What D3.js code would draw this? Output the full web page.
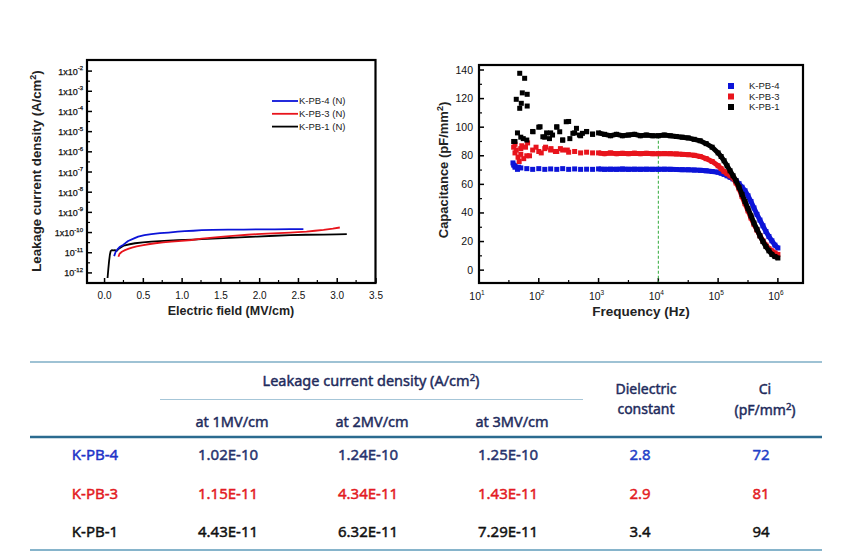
<!DOCTYPE html>
<html><head><meta charset="utf-8">
<script src="https://cdn.jsdelivr.net/npm/d3@7"></script>
<style>body{margin:0;background:#fff}svg{display:block}</style>
</head><body><svg id="c" width="864" height="552"></svg>
<script>
// ---------- Leakage current data (left chart) ----------
const leakNames = ['K-PB-4 (N)', 'K-PB-3 (N)', 'K-PB-1 (N)'];
const fieldK4 = [0.13,0.15,0.17,0.2,0.25,0.31,0.38,0.44,0.52,0.61,0.72,0.83,0.95,1.04,1.15,1.26,1.4,1.6,1.8,2.0,2.2,2.4,2.57];
const leakK4 = [6.76e-12,1.12e-11,1.41e-11,1.91e-11,2.51e-11,3.8e-11,5.01e-11,6.31e-11,7.41e-11,8.32e-11,9.33e-11,1.0e-10,1.1e-10,1.17e-10,1.23e-10,1.32e-10,1.35e-10,1.38e-10,1.41e-10,1.45e-10,1.45e-10,1.48e-10,1.48e-10];
const fieldK3 = [0.185,0.2,0.23,0.27,0.32,0.36,0.42,0.49,0.57,0.66,0.76,0.87,1.0,1.13,1.26,1.4,1.54,1.7,1.85,1.97,2.1,2.25,2.4,2.5,2.61,2.72,2.83,2.95,3.04];
const leakK3 = [6.31e-12,8.91e-12,1.12e-11,1.35e-11,1.58e-11,1.78e-11,2.04e-11,2.34e-11,2.63e-11,2.95e-11,3.24e-11,3.55e-11,3.89e-11,4.27e-11,5.01e-11,5.62e-11,6.31e-11,7.08e-11,7.76e-11,8.32e-11,8.91e-11,9.33e-11,1.0e-10,1.05e-10,1.12e-10,1.23e-10,1.35e-10,1.55e-10,1.78e-10];
const fieldK1 = [0.045,0.055,0.065,0.075,0.085,0.1,0.12,0.14,0.16,0.19,0.21,0.24,0.27,0.33,0.4,0.5,0.61,0.72,0.83,0.95,1.04,1.15,1.26,1.4,1.54,1.75,1.97,2.2,2.4,2.6,2.83,3.0,3.13];
const leakK1 = [5.62e-13,1.58e-12,3.98e-12,7.94e-12,1.2e-11,1.35e-11,1.32e-11,1.35e-11,1.2e-11,1.58e-11,1.78e-11,2.09e-11,2.34e-11,2.63e-11,2.95e-11,3.24e-11,3.55e-11,3.72e-11,3.98e-11,4.17e-11,4.27e-11,4.47e-11,4.68e-11,5.01e-11,5.25e-11,5.75e-11,6.31e-11,6.92e-11,7.41e-11,7.76e-11,7.94e-11,8.13e-11,8.32e-11];
const leakTickExp = [-2,-3,-4,-5,-6,-7,-8,-9,-10,-11,-12];
const leakTickBase = ['1x10','1x10','1x10','1x10','1x10','1x10','1x10','1x10','1x10','10','10'];
const fieldTicks = [0,0.5,1,1.5,2,2.5,3,3.5];

// ---------- Capacitance data (right chart) ----------
const capNames = ['K-PB-4', 'K-PB-3', 'K-PB-1'];
const freq = [40,50,63,79,100,126,158,200,251,316,398,501,631,794,1000,1259,1585,1995,2512,3162,3981,5012,6310,7943,10000,12589,15849,19953,25119,31623,39811,50119,63096,79433,100000,112202,125893,141254,158489,177828,199526,223872,251189,281838,316228,354813,398107,446684,501187,562341,630957,707946,794328,891251,1000000];
const capK4 = [73,71.5,71,70.5,71,70.5,70.8,70.5,71,70.5,70.8,70.5,70.6,70.5,70.8,70.5,70.6,70.5,70.7,70.5,70.6,70.5,70.6,70.5,70.5,70.6,70.5,70.4,70.3,70.2,70,69.8,69.5,69,68.5,67.8,67,66,65,63.8,62.5,60.5,58,55.5,52,48,43.5,39,35,31,27,23.5,20.5,17.5,15.5];
const capK3 = [82,85,80,84,83,85,84,83,84,82.5,83,82,82.5,82,82,81.5,82,81.5,81.7,81.5,81.8,81.5,81.7,81.5,81.5,81.6,81.5,81.3,81,80.8,80.3,79.5,78,76,73,71,69,67.5,66,64.5,61,57,51.5,46.5,41.5,36.5,32,28,24,20.5,17.5,15,13.5,12,11];
const capK1 = [90,93,91,97,100,93,96,100,91,104,96,94,97,95,96,95,94,95,94,94.5,95,94,94.5,94,94,94.5,94,93.5,93,92.5,91.5,90.5,88.5,86,82,79.5,76.5,73,69.5,66,62.5,58,53,48,43,38,33,28.5,24,20,16.5,13.5,11,9.5,8.5];
const extraK4 = [[37,75],[38,73.5],[40,72],[44,70.5],[46,72]];
const extraK3 = [[38,86],[40,88],[42,84],[45,79],[47,76],[50,81],[52,87],[56,78],[60,86],[65,89],[70,80],[90,86],[110,82],[130,86],[160,85],[190,83],[230,85],[300,84]];
const extraK1 = [[48,137.7],[58,134.2],[53,124],[64,123],[42,119.5],[51,116.7],[48,113.2],[64,114.8],[38,90],[44,96],[55,92],[80,96.8],[105,100.3],[117,93.3],[135,96],[151,92],[170,94.5],[200,100.3],[224,96.8],[251,91],[288,103.8],[331,92],[372,95.7],[427,99.2],[479,94.5],[537,95.7],[631,96.8],[794,95.2]];
const capTicks = [0,20,40,60,80,100,120,140];
const freqTickExp = [1,2,3,4,5,6];
const markerFreq = 10000;
const markerCap = 94;

// ---------- Table data ----------
const tableSamples = ['K-PB-4','K-PB-3','K-PB-1'];
const leak1MV = ['1.02E-10','1.15E-11','4.43E-11'];
const leak2MV = ['1.24E-10','4.34E-11','6.32E-11'];
const leak3MV = ['1.25E-10','1.43E-11','7.29E-11'];
const dielectricConst = ['2.8','2.9','3.4'];
const ciValues = ['72','81','94'];

// ---------- Drawing ----------
const svg = d3.select('#c');
const FONT = '"Liberation Sans", Arial, sans-serif';
const colors = ['#0c14d8', '#e8141c', '#000000'];

function sup(t, base, exp, dy, fs) {
  t.append('tspan').text(base);
  t.append('tspan').attr('dy', dy).attr('font-size', fs).text(exp);
  return t;
}

// ===== Left chart =====
const L = {l:87, r:375.5, t:60, b:283};
const x1 = d3.scaleLinear().domain([-0.22, 3.5]).range([L.l, L.r]);
const y1 = d3.scaleLog().domain([Math.pow(10,-12.5), Math.pow(10,-1.45)]).range([L.b, L.t]);
const g1 = svg.append('g').attr('font-family', FONT);

leakTickExp.forEach(e => {
  const yy = y1(Math.pow(10, e));
  g1.append('line').attr('x1', L.l).attr('x2', L.l + 5).attr('y1', yy).attr('y2', yy).attr('stroke', '#000').attr('stroke-width', 1.5);
  const ym = y1(Math.pow(10, e + 0.5));
  if (ym > L.t + 2) g1.append('line').attr('x1', L.l).attr('x2', L.l + 3).attr('y1', ym).attr('y2', ym).attr('stroke', '#000').attr('stroke-width', 1.2);
});
leakTickExp.forEach((e, i) => {
  const t = g1.append('text').attr('x', 83).attr('y', y1(Math.pow(10, e)) + 3.5)
    .attr('text-anchor', 'end').attr('font-size', 9).attr('fill', '#111')
    .attr('stroke', '#111').attr('stroke-width', 0.25);
  sup(t, leakTickBase[i], String(e), -4.5, 6);
});
const xAxis1 = d3.axisBottom(x1).tickValues(fieldTicks).tickSize(-5).tickPadding(9).tickFormat(d3.format('.1f'));
const ax1 = g1.append('g').attr('transform', `translate(0,${L.b})`).call(xAxis1);
ax1.select('.domain').remove();
ax1.selectAll('.tick line').attr('stroke-width', 1.5);
ax1.selectAll('text').attr('font-size', 10).attr('font-family', FONT).attr('fill', '#111');
fieldTicks.slice(0, -1).forEach(v => {
  const xx = x1(v + 0.25);
  g1.append('line').attr('x1', xx).attr('x2', xx).attr('y1', L.b).attr('y2', L.b - 3).attr('stroke', '#000').attr('stroke-width', 1.2);
});

const leakData = [
  fieldK4.map((f, i) => [f, leakK4[i]]),
  fieldK3.map((f, i) => [f, leakK3[i]]),
  fieldK1.map((f, i) => [f, leakK1[i]])
];
const line1 = d3.line().x(d => x1(d[0])).y(d => y1(d[1]));
[2, 1, 0].forEach(k => {
  g1.append('path').attr('d', line1(leakData[k])).attr('fill', 'none')
    .attr('stroke', colors[k]).attr('stroke-width', 1.8).attr('stroke-linejoin', 'round');
});
g1.append('rect').attr('x', L.l).attr('y', L.t).attr('width', L.r - L.l).attr('height', L.b - L.t)
  .attr('fill', 'none').attr('stroke', '#000').attr('stroke-width', 2.2);

leakNames.forEach((n, i) => {
  const yy = 101 + i * 12.8;
  g1.append('line').attr('x1', 272).attr('x2', 298).attr('y1', yy).attr('y2', yy).attr('stroke', colors[i]).attr('stroke-width', 1.8);
  g1.append('text').attr('x', 299).attr('y', yy + 3.3).attr('font-size', 9.5).attr('fill', '#222').text(n);
});

const ty1 = g1.append('text').attr('transform', 'translate(41,171) rotate(-90)').attr('text-anchor', 'middle')
  .attr('font-size', 13.2).attr('font-weight', 'bold').attr('fill', '#222');
ty1.append('tspan').text('Leakage current density (A/cm');
ty1.append('tspan').attr('dy', -5).attr('font-size', 9).text('2');
ty1.append('tspan').attr('dy', 5).text(')');
g1.append('text').attr('x', 231).attr('y', 315).attr('text-anchor', 'middle').attr('font-size', 12.5)
  .attr('font-weight', 'bold').attr('fill', '#222').text('Electric field (MV/cm)');

// ===== Right chart =====
const R = {l:479, r:803, t:65, b:283};
const x2 = d3.scaleLog().domain([10, Math.pow(10, 6.42)]).range([R.l, R.r]);
const y2 = d3.scaleLinear().domain([-9, 143.5]).range([R.b, R.t]);
const g2 = svg.append('g').attr('font-family', FONT);

capTicks.forEach(v => {
  const yy = y2(v);
  g2.append('line').attr('x1', R.l).attr('x2', R.l + 5).attr('y1', yy).attr('y2', yy).attr('stroke', '#000').attr('stroke-width', 1.5);
  g2.append('text').attr('x', 473).attr('y', yy + 3.5).attr('text-anchor', 'end').attr('font-size', 10.5).attr('fill', '#111').text(v);
  const ym = y2(v + 10);
  if (ym > R.t + 2) g2.append('line').attr('x1', R.l).attr('x2', R.l + 3).attr('y1', ym).attr('y2', ym).attr('stroke', '#000').attr('stroke-width', 1.2);
});
freqTickExp.forEach(e => {
  const xx = x2(Math.pow(10, e));
  g2.append('line').attr('x1', xx).attr('x2', xx).attr('y1', R.b).attr('y2', R.b - 5).attr('stroke', '#000').attr('stroke-width', 1.5);
  const xm = x2(Math.pow(10, e + 0.5));
  if (xm < R.r - 2) g2.append('line').attr('x1', xm).attr('x2', xm).attr('y1', R.b).attr('y2', R.b - 3).attr('stroke', '#000').attr('stroke-width', 1.2);
  const t = g2.append('text').attr('x', xx - 2).attr('y', R.b + 17).attr('text-anchor', 'middle').attr('font-size', 10.5).attr('fill', '#111');
  sup(t, '10', String(e), -5, 6.5);
});

g2.append('line').attr('x1', x2(markerFreq)).attr('x2', x2(markerFreq)).attr('y1', y2(markerCap)).attr('y2', R.b)
  .attr('stroke', '#2faa3a').attr('stroke-width', 1).attr('stroke-dasharray', '3,2');

const capMain = [capK4, capK3, capK1].map(arr => freq.map((f, i) => [f, arr[i]]));
const capExtra = [extraK4, extraK3, extraK1];
const line2 = d3.line().x(d => x2(d[0])).y(d => y2(d[1]));
const SQ = 5;
[0, 1, 2].forEach(k => {
  const smooth = capMain[k].filter(d => d[0] >= 1000);
  g2.append('path').attr('d', line2(smooth)).attr('fill', 'none').attr('stroke', colors[k]).attr('stroke-width', 5);
  const pts = capMain[k].concat(capExtra[k]);
  g2.selectAll(null).data(pts).enter().append('rect')
    .attr('x', d => x2(d[0]) - SQ / 2).attr('y', d => y2(d[1]) - SQ / 2)
    .attr('width', SQ).attr('height', SQ).attr('fill', colors[k]);
});
g2.append('rect').attr('x', R.l).attr('y', R.t).attr('width', R.r - R.l).attr('height', R.b - R.t)
  .attr('fill', 'none').attr('stroke', '#000').attr('stroke-width', 2.2);

capNames.forEach((n, i) => {
  const yy = 86 + i * 10.5;
  g2.append('rect').attr('x', 728).attr('y', yy - 3).attr('width', 6).attr('height', 6).attr('fill', colors[i]);
  g2.append('text').attr('x', 749).attr('y', yy + 3.3).attr('font-size', 9.5).attr('fill', '#222').text(n);
});

const ty2 = g2.append('text').attr('transform', 'translate(448,170) rotate(-90)').attr('text-anchor', 'middle')
  .attr('font-size', 13).attr('font-weight', 'bold').attr('fill', '#222');
ty2.append('tspan').text('Capacitance (pF/mm');
ty2.append('tspan').attr('dy', -5).attr('font-size', 9).text('2');
ty2.append('tspan').attr('dy', 5).text(')');
g2.append('text').attr('x', 641).attr('y', 316).attr('text-anchor', 'middle').attr('font-size', 13.5)
  .attr('font-weight', 'bold').attr('fill', '#222').text('Frequency (Hz)');

// ===== Table =====
const TF = '"Noto Sans", "Noto Sans CJK KR", sans-serif';
const gt = svg.append('g').attr('font-family', TF);
const head = '#1e2b5c';
gt.append('line').attr('x1', 30).attr('x2', 822).attr('y1', 362).attr('y2', 362).attr('stroke', '#7eaec6').attr('stroke-width', 1.5);
gt.append('line').attr('x1', 160).attr('x2', 583).attr('y1', 399.5).attr('y2', 399.5).attr('stroke', '#a6c6d8').attr('stroke-width', 1);
gt.append('line').attr('x1', 30).attr('x2', 822).attr('y1', 437).attr('y2', 437).attr('stroke', '#2b6b8f').attr('stroke-width', 2.5);
gt.append('line').attr('x1', 30).attr('x2', 822).attr('y1', 550).attr('y2', 550).attr('stroke', '#86b4cb').attr('stroke-width', 2);

function ttext(x, y, color, size) {
  return gt.append('text').attr('x', x).attr('y', y).attr('text-anchor', 'middle')
    .attr('font-size', size).attr('fill', color).attr('stroke', color).attr('stroke-width', 0.45);
}
const th = ttext(371, 386, head, 14.5);
th.append('tspan').text('Leakage current density (A/cm');
th.append('tspan').attr('dy', -5).attr('font-size', 9.5).text('2');
th.append('tspan').attr('dy', 5).text(')');
const colX = [232, 372, 512, 646, 765];
['at 1MV/cm', 'at 2MV/cm', 'at 3MV/cm'].forEach((s, i) => {
  ttext(colX[i], 427, head, 14.5).text(s);
});
ttext(colX[3], 394, head, 14).text('Dielectric');
ttext(colX[3], 414, head, 14).text('constant');
ttext(colX[4], 394, head, 14).text('Ci');
const tc = ttext(colX[4], 415, head, 14);
tc.append('tspan').text('(pF/mm');
tc.append('tspan').attr('dy', -5).attr('font-size', 9.5).text('2');
tc.append('tspan').attr('dy', 5).text(')');

const rowY = [460, 499, 537];
const labelColors = ['#1f34c8', '#e31b23', '#111111'];
const valColors = ['#27336e', '#e31b23', '#111111'];
const smallColors = ['#1f3fc8', '#e31b23', '#111111'];
tableSamples.forEach((s, i) => {
  ttext(95, rowY[i], labelColors[i], 15).text(s);
  [leak1MV[i], leak2MV[i], leak3MV[i]].forEach((v, j) => {
    ttext(colX[j] - 4, rowY[i], valColors[i], 15).text(v);
  });
  ttext(colX[3] - 6, rowY[i], smallColors[i], 15).text(dielectricConst[i]);
  ttext(colX[4] - 4, rowY[i], smallColors[i], 15).text(ciValues[i]);
});
</script></body></html>
